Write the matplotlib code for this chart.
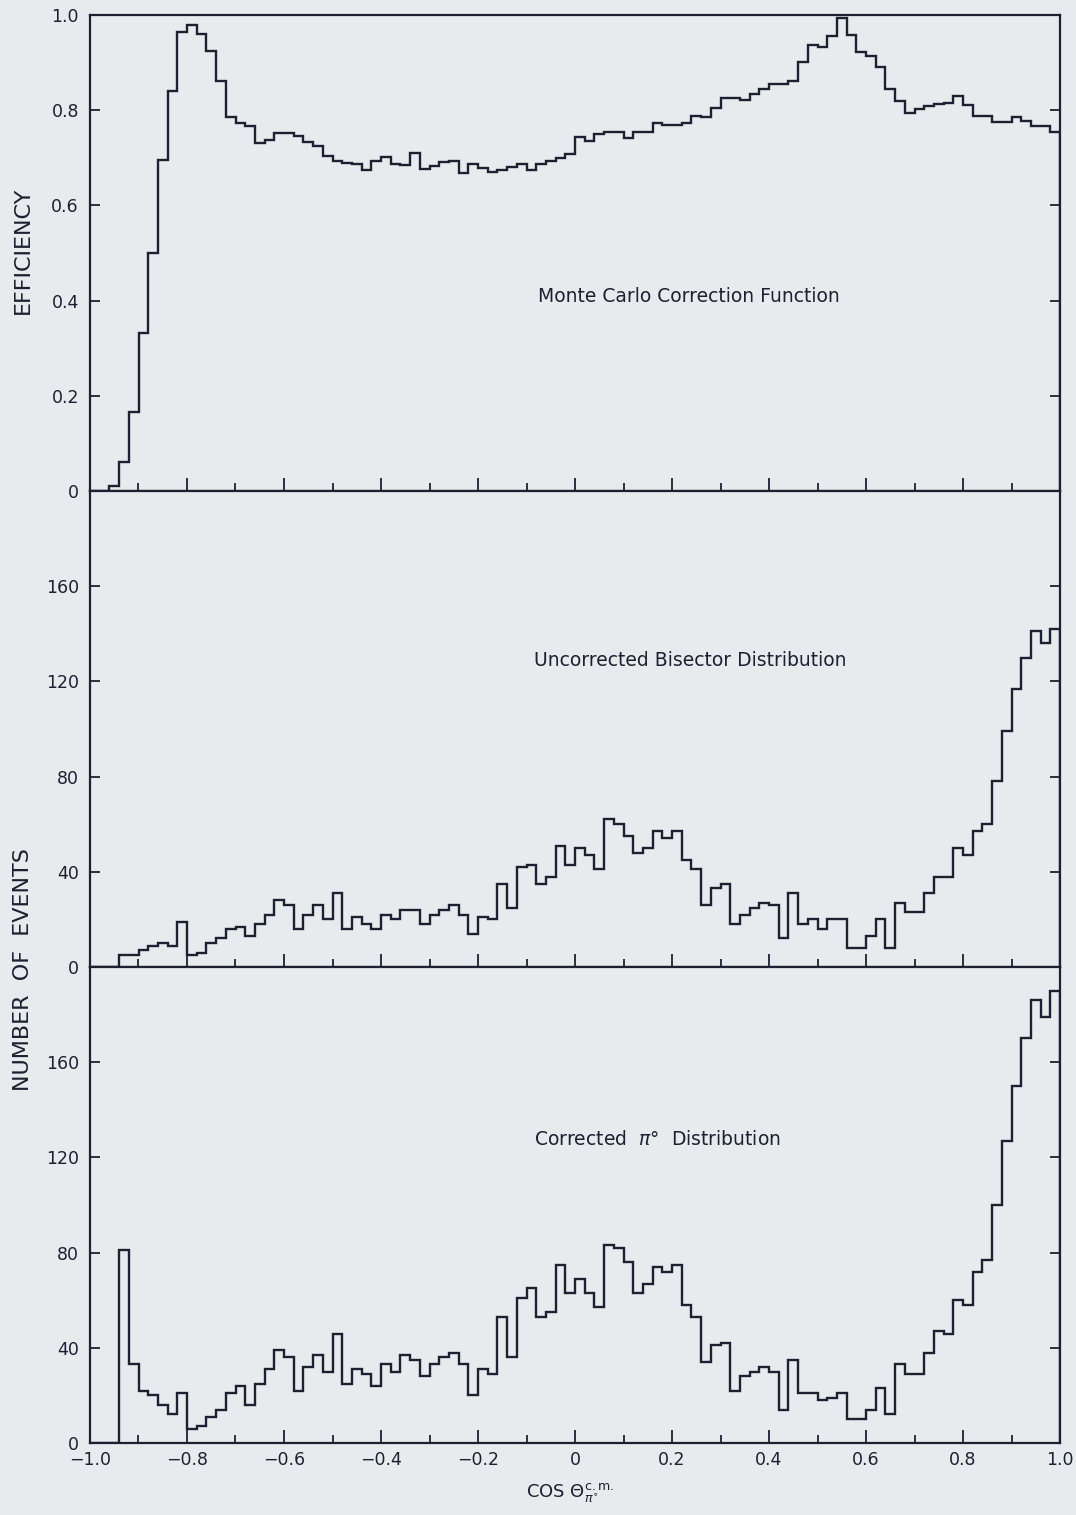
import numpy as np
import matplotlib
matplotlib.use("Agg")
import matplotlib.pyplot as plt
from matplotlib.ticker import MultipleLocator, FixedLocator

# bin edges of cos(theta) in the c.m. frame, width 0.02
edges = np.round(np.arange(-1.0, 1.0001, 0.02), 2)

# Monte Carlo correction function (efficiency per bin)
efficiency = [
    0.0, 0.0, 0.01, 0.06, 0.165, 0.332, 0.50, 0.695, 0.84, 0.965,
    0.98, 0.96, 0.925, 0.862, 0.786, 0.774, 0.767, 0.732, 0.737, 0.752,
    0.752, 0.745, 0.733, 0.725, 0.704,
    0.693, 0.690, 0.688, 0.674, 0.693, 0.702, 0.688, 0.684, 0.711, 0.677,
    0.683, 0.691, 0.693, 0.669, 0.688, 0.679, 0.671, 0.674, 0.681, 0.688,
    0.674, 0.686, 0.693, 0.700, 0.709,
    0.743, 0.736, 0.750, 0.755, 0.755, 0.741, 0.755, 0.755, 0.774, 0.768,
    0.768, 0.774, 0.787, 0.785, 0.804, 0.825, 0.825, 0.822, 0.834, 0.844,
    0.855, 0.855, 0.862, 0.901, 0.938,
    0.933, 0.955, 0.993, 0.959, 0.923, 0.913, 0.890, 0.844, 0.820, 0.795,
    0.802, 0.808, 0.813, 0.816, 0.829, 0.811, 0.787, 0.787, 0.775, 0.775,
    0.785, 0.778, 0.767, 0.767, 0.754,
]

# uncorrected bisector distribution (events per bin)
uncorrected = [
    0, 0, 0, 5, 5, 7, 9, 10, 9, 19,
    5, 6, 10, 12, 16, 17, 13, 18, 22, 28,
    26, 16, 22, 26, 20,
    31, 16, 21, 18, 16, 22, 20, 24, 24, 18,
    22, 24, 26, 22, 14, 21, 20, 35, 25, 42,
    43, 35, 38, 51, 43,
    50, 47, 41, 62, 60, 55, 48, 50, 57, 54,
    57, 45, 41, 26, 33, 35, 18, 22, 25, 27,
    26, 12, 31, 18, 20,
    16, 20, 20, 8, 8, 13, 20, 8, 27, 23,
    23, 31, 38, 38, 50, 47, 57, 60, 78, 99,
    117, 130, 141, 136, 142,
]

# corrected pi0 distribution (events per bin)
corrected = [
    0, 0, 0, 81, 33, 22, 20, 16, 12, 21,
    6, 7, 11, 14, 21, 24, 16, 25, 31, 39,
    36, 22, 32, 37, 30,
    46, 25, 31, 29, 24, 33, 30, 37, 35, 28,
    33, 36, 38, 33, 20, 31, 29, 53, 36, 61,
    65, 53, 55, 75, 63,
    69, 63, 57, 83, 82, 76, 63, 67, 74, 72,
    75, 58, 53, 34, 41, 42, 22, 28, 30, 32,
    30, 14, 35, 21, 21,
    18, 19, 21, 10, 10, 14, 23, 12, 33, 29,
    29, 38, 47, 46, 60, 58, 72, 77, 100, 127,
    150, 170, 186, 179, 190,
]

x_ticks = [-1.0, -0.8, -0.6, -0.4, -0.2, 0.0, 0.2, 0.4, 0.6, 0.8, 1.0]
x_tick_labels = ["\u22121.0", "\u22120.8", "\u22120.6", "\u22120.4", "\u22120.2",
                 "0", "0.2", "0.4", "0.6", "0.8", "1.0"]
eff_ticks = [0, 0.2, 0.4, 0.6, 0.8, 1.0]
eff_tick_labels = ["0", "0.2", "0.4", "0.6", "0.8", "1.0"]
count_ticks = [0, 40, 80, 120, 160]

PAPER = "#e7ebed"
INK = "#1b2130"

plt.rcParams["font.family"] = ["DejaVu Sans"]

fig = plt.figure(figsize=(10.76, 15.15), dpi=100, facecolor=PAPER)
left, width = 90 / 1076, 970 / 1076
h = 476 / 1515
bottoms = [1 - 491 / 1515, 1 - 967 / 1515, 1 - 1443 / 1515]
axes = [fig.add_axes([left, b, width, h]) for b in bottoms]

series = [efficiency, uncorrected, corrected]
ylims = [(0, 1.0), (0, 200), (0, 200)]
notes = [("Monte Carlo Correction Function", 0.617, 0.408),
         ("Uncorrected Bisector Distribution", 0.619, 0.643),
         ("Corrected  $\\pi$\u00b0  Distribution", 0.585, 0.637)]

for i, ax in enumerate(axes):
    ax.set_facecolor(PAPER)
    ax.stairs(series[i], edges, color=INK, linewidth=1.7, baseline=0)
    ax.set_xlim(-1.0, 1.0)
    ax.set_ylim(*ylims[i])
    for sp in ax.spines.values():
        sp.set_color(INK)
        sp.set_linewidth(1.6)
    ax.xaxis.set_major_locator(FixedLocator(x_ticks))
    ax.xaxis.set_minor_locator(MultipleLocator(0.1))
    ax.tick_params(axis="x", which="major", direction="in", length=9.5, width=1.3,
                   color=INK, top=False, labelsize=12.5, pad=6, labelcolor=INK)
    ax.tick_params(axis="x", which="minor", direction="in", length=5.5, width=1.3,
                   color=INK, top=False)
    ax.tick_params(axis="y", which="major", direction="in", length=7, width=1.3,
                   color=INK, left=True, right=True, labelsize=12.5, pad=8,
                   labelcolor=INK)
    if i == 0:
        ax.set_yticks(eff_ticks)
        ax.set_yticklabels(eff_tick_labels)
    else:
        ax.set_yticks(count_ticks)
    if i < 2:
        ax.set_xticklabels([])
    else:
        ax.set_xticklabels(x_tick_labels)
    txt, tx, ty = notes[i]
    ax.text(tx, ty, txt, transform=ax.transAxes, ha="center", va="center",
            fontsize=13.5, color=INK)

fig.text(0.021, 1 - 250 / 1515, "EFFICIENCY", rotation=90, ha="center",
         va="center", fontsize=16, color=INK)
fig.text(0.021, 1 - 970 / 1515, "NUMBER  OF  EVENTS", rotation=90, ha="center",
         va="center", fontsize=16, color=INK)
fig.text(0.53, 1 - 1493 / 1515, "COS $\\Theta^{\\rm c.m.}_{\\pi^{\\circ}}$",
         ha="center", va="center", fontsize=13, color=INK)

fig.savefig("out.png", dpi=100, facecolor=PAPER)
